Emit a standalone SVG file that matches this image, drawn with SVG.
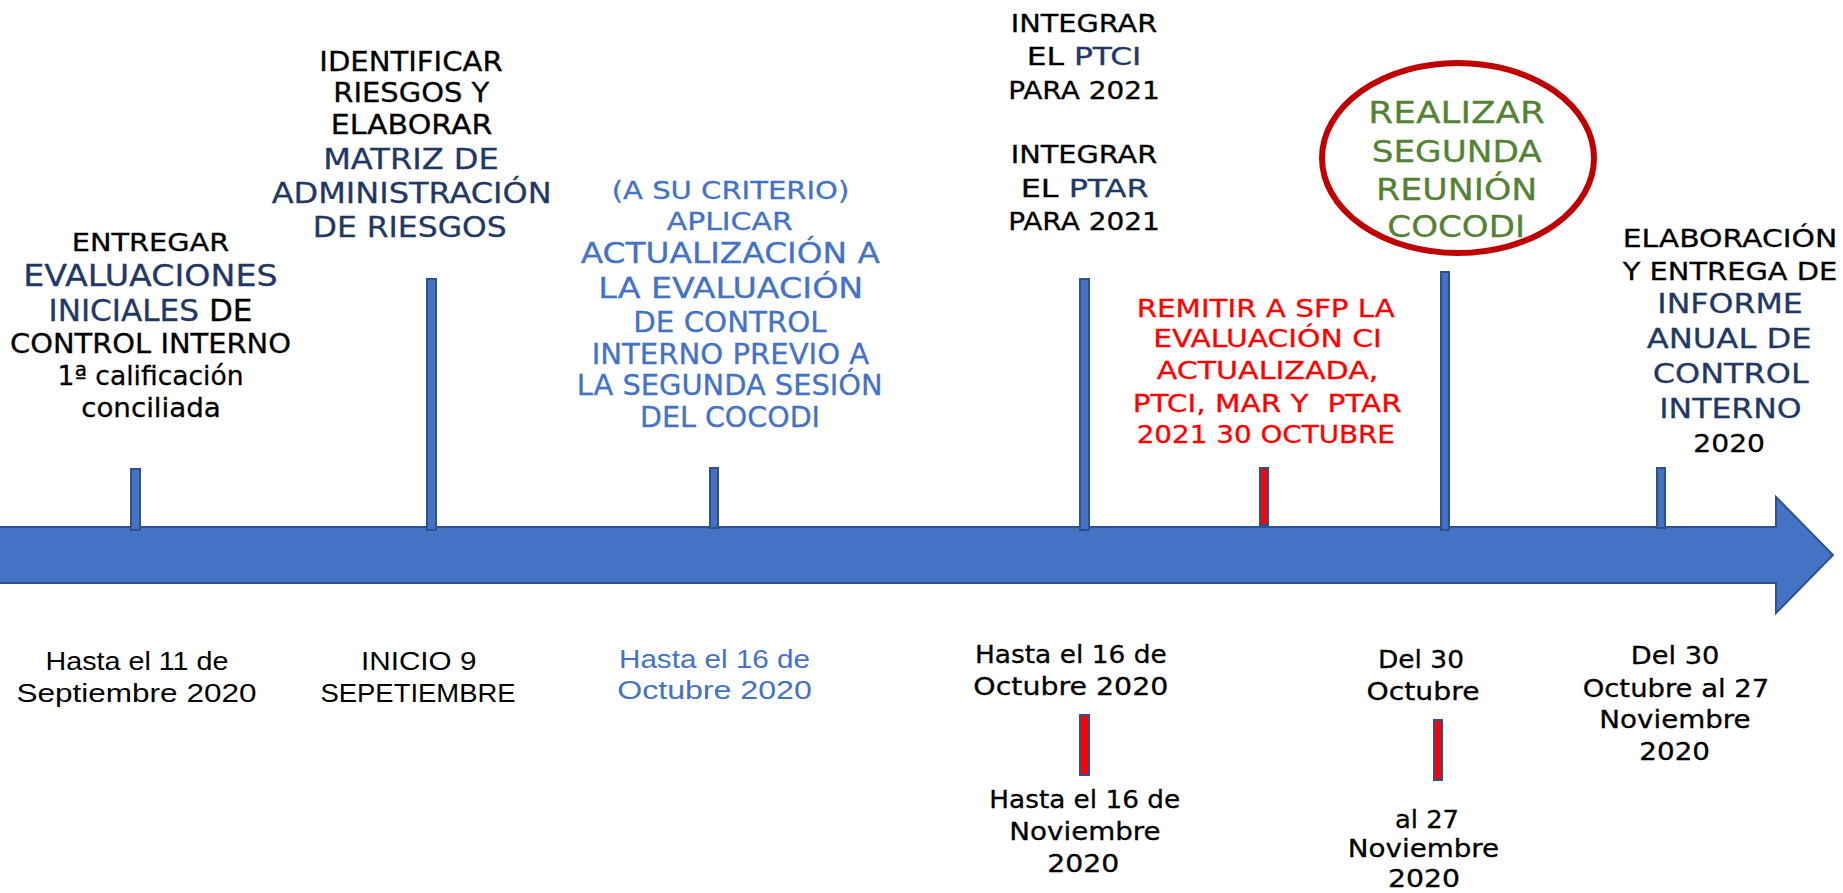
<svg xmlns="http://www.w3.org/2000/svg" width="1843" height="893" viewBox="0 0 1843 893">
<style>
.c{font-family:"DejaVu Sans","Noto Sans",sans-serif;text-anchor:middle;stroke-width:0.3;}
.n{font-family:"Liberation Sans",Arial,sans-serif;text-anchor:middle;}
.k{fill:#000000;stroke:#000000}.nv{fill:#1F3864;stroke:#1F3864}.bl{fill:#4472C4;stroke:#4472C4}.rd{fill:#FF0000;stroke:#FF0000}.gr{fill:#548235;stroke:#548235}
.n.k,.n.bl{stroke:none}
.tick{fill:#4472C4;stroke:#2F528F;stroke-width:2}
.rtick{fill:#FF0000;stroke:#2F528F;stroke-width:2}
.arrow{fill:#4472C4;stroke:#2F528F;stroke-width:2}
</style>
<rect width="1843" height="893" fill="#FFFFFF"/>
<g id="connectors">
<path class="arrow" d="M-2,527 L1776,527 L1776,497 L1833,555 L1776,613 L1776,583 L-2,583 Z"/>
<rect class="tick" x="131" y="469" width="9" height="61"/>
<rect class="tick" x="427" y="279" width="9" height="251"/>
<rect class="tick" x="710" y="468" width="8" height="60"/>
<rect class="tick" x="1080" y="279" width="9" height="251"/>
<rect class="rtick" x="1260" y="468" width="8" height="57"/>
<rect class="tick" x="1441" y="272" width="8" height="258"/>
<rect class="tick" x="1657" y="468" width="8" height="60"/>
<rect class="rtick" x="1080" y="715" width="9" height="60"/>
<rect class="rtick" x="1434" y="720" width="8" height="60"/>
</g>
<g id="node-entregar">
<text class="c k" x="150.5" y="251" font-size="25.5" textLength="157.6" lengthAdjust="spacingAndGlyphs">ENTREGAR</text>
<text class="c nv" x="150.5" y="286" font-size="29.5" textLength="254.4" lengthAdjust="spacingAndGlyphs">EVALUACIONES</text>
<text class="c k" x="150.5" y="321" font-size="29.5" textLength="204" lengthAdjust="spacingAndGlyphs"><tspan class="nv">INICIALES</tspan> DE</text>
<text class="c k" x="150.5" y="353" font-size="26" textLength="281" lengthAdjust="spacingAndGlyphs">CONTROL INTERNO</text>
<text class="c k" x="150.5" y="385" font-size="26" textLength="186" lengthAdjust="spacingAndGlyphs">1ª calificación</text>
<text class="c k" x="151" y="417" font-size="26" textLength="139.7" lengthAdjust="spacingAndGlyphs">conciliada</text>
</g>
<g id="node-identificar">
<text class="c k" x="411" y="70.7" font-size="26" textLength="183.4" lengthAdjust="spacingAndGlyphs">IDENTIFICAR</text>
<text class="c k" x="411.3" y="102.3" font-size="26" textLength="156" lengthAdjust="spacingAndGlyphs">RIESGOS Y</text>
<text class="c k" x="411.5" y="134" font-size="26" textLength="161.6" lengthAdjust="spacingAndGlyphs">ELABORAR</text>
<text class="c nv" x="411" y="169.3" font-size="28.5" textLength="175.7" lengthAdjust="spacingAndGlyphs">MATRIZ DE</text>
<text class="c nv" x="411.7" y="203.3" font-size="28.5" textLength="280" lengthAdjust="spacingAndGlyphs">ADMINISTRACIÓN</text>
<text class="c nv" x="409.7" y="237.3" font-size="28.5" textLength="194" lengthAdjust="spacingAndGlyphs">DE RIESGOS</text>
</g>
<g id="node-aplicar">
<text class="c bl" x="730.5" y="199.3" font-size="24.5" textLength="237.6" lengthAdjust="spacingAndGlyphs">(A SU CRITERIO)</text>
<text class="c bl" x="729.7" y="230" font-size="24.5" textLength="126" lengthAdjust="spacingAndGlyphs">APLICAR</text>
<text class="c bl" x="730.3" y="263.3" font-size="27.5" textLength="299.3" lengthAdjust="spacingAndGlyphs">ACTUALIZACIÓN A</text>
<text class="c bl" x="730.8" y="298.3" font-size="27.5" textLength="265" lengthAdjust="spacingAndGlyphs">LA EVALUACIÓN</text>
<text class="c bl" x="730" y="331.7" font-size="27.5" textLength="193.4" lengthAdjust="spacingAndGlyphs">DE CONTROL</text>
<text class="c bl" x="730.5" y="364" font-size="27.5" textLength="277.6" lengthAdjust="spacingAndGlyphs">INTERNO PREVIO A</text>
<text class="c bl" x="729.7" y="395" font-size="27.5" textLength="306" lengthAdjust="spacingAndGlyphs">LA SEGUNDA SESIÓN</text>
<text class="c bl" x="730" y="426.7" font-size="27.5" textLength="180" lengthAdjust="spacingAndGlyphs">DEL COCODI</text>
</g>
<g id="node-integrar">
<text class="c k" x="1084" y="32.3" font-size="24" textLength="146.6" lengthAdjust="spacingAndGlyphs">INTEGRAR</text>
<text class="c k" x="1084" y="65" font-size="24" textLength="114.6" lengthAdjust="spacingAndGlyphs">EL <tspan class="nv">PTCI</tspan></text>
<text class="c k" x="1084" y="99.3" font-size="24" textLength="151.7" lengthAdjust="spacingAndGlyphs">PARA 2021</text>
<text class="c k" x="1084" y="163.3" font-size="24" textLength="146.6" lengthAdjust="spacingAndGlyphs">INTEGRAR</text>
<text class="c k" x="1084.7" y="196.7" font-size="24" textLength="128" lengthAdjust="spacingAndGlyphs">EL <tspan class="nv">PTAR</tspan></text>
<text class="c k" x="1084" y="230" font-size="24" textLength="151.7" lengthAdjust="spacingAndGlyphs">PARA 2021</text>
</g>
<g id="node-remitir">
<text class="c rd" x="1265.8" y="316.7" font-size="25" textLength="258.3" lengthAdjust="spacingAndGlyphs">REMITIR A SFP LA</text>
<text class="c rd" x="1267.5" y="346.7" font-size="25" textLength="228.4" lengthAdjust="spacingAndGlyphs">EVALUACIÓN CI</text>
<text class="c rd" x="1267.5" y="379.3" font-size="25" textLength="221.6" lengthAdjust="spacingAndGlyphs">ACTUALIZADA,</text>
<text class="c rd" x="1267.2" y="411.7" font-size="25" textLength="269" lengthAdjust="spacingAndGlyphs" xml:space="preserve">PTCI, MAR Y  PTAR</text>
<text class="c rd" x="1265.8" y="442.7" font-size="25" textLength="258.3" lengthAdjust="spacingAndGlyphs">2021 30 OCTUBRE</text>
</g>
<g id="node-realizar">
<ellipse cx="1458" cy="158" rx="136" ry="95" fill="#FFFFFF" stroke="#C00000" stroke-width="6"/>
<text class="c gr" x="1456.7" y="123.3" font-size="31" textLength="176.7" lengthAdjust="spacingAndGlyphs">REALIZAR</text>
<text class="c gr" x="1456.7" y="161.7" font-size="31" textLength="170" lengthAdjust="spacingAndGlyphs">SEGUNDA</text>
<text class="c gr" x="1456.7" y="200" font-size="31" textLength="161.3" lengthAdjust="spacingAndGlyphs">REUNIÓN</text>
<text class="c gr" x="1456.2" y="237.3" font-size="31" textLength="137.7" lengthAdjust="spacingAndGlyphs">COCODI</text>
</g>
<g id="node-informe">
<text class="c k" x="1730" y="247.3" font-size="25.5" textLength="214.6" lengthAdjust="spacingAndGlyphs">ELABORACIÓN</text>
<text class="c k" x="1730" y="280" font-size="25.5" textLength="214.6" lengthAdjust="spacingAndGlyphs">Y ENTREGA DE</text>
<text class="c nv" x="1730" y="312.7" font-size="27" textLength="145.4" lengthAdjust="spacingAndGlyphs">INFORME</text>
<text class="c nv" x="1729.2" y="348.3" font-size="27" textLength="165" lengthAdjust="spacingAndGlyphs">ANUAL DE</text>
<text class="c nv" x="1730.7" y="383.3" font-size="27" textLength="156" lengthAdjust="spacingAndGlyphs">CONTROL</text>
<text class="c nv" x="1730.5" y="418.3" font-size="27" textLength="142.4" lengthAdjust="spacingAndGlyphs">INTERNO</text>
<text class="c k" x="1729.2" y="451.7" font-size="25.5" textLength="71.7" lengthAdjust="spacingAndGlyphs">2020</text>
</g>
<g id="date-septiembre">
<text class="n k" x="137" y="670" font-size="26" textLength="183" lengthAdjust="spacingAndGlyphs">Hasta el 11 de</text>
<text class="n k" x="136.5" y="702" font-size="26" textLength="240" lengthAdjust="spacingAndGlyphs">Septiembre 2020</text>
</g>
<g id="date-inicio">
<text class="n k" x="418.7" y="670" font-size="26" textLength="115.5" lengthAdjust="spacingAndGlyphs">INICIO 9</text>
<text class="n k" x="418" y="702" font-size="26" textLength="195" lengthAdjust="spacingAndGlyphs">SEPETIEMBRE</text>
</g>
<g id="date-octubre-azul">
<text class="n bl" x="714.5" y="668" font-size="26" textLength="191" lengthAdjust="spacingAndGlyphs">Hasta el 16 de</text>
<text class="n bl" x="714.5" y="699" font-size="26" textLength="194.6" lengthAdjust="spacingAndGlyphs">Octubre 2020</text>
</g>
<g id="date-octubre">
<text class="c k" x="1070.8" y="663.3" font-size="24" textLength="191.7" lengthAdjust="spacingAndGlyphs">Hasta el 16 de</text>
<text class="c k" x="1070.8" y="695" font-size="24" textLength="195" lengthAdjust="spacingAndGlyphs">Octubre 2020</text>
</g>
<g id="date-noviembre">
<text class="c k" x="1084.7" y="807.7" font-size="24" textLength="190.7" lengthAdjust="spacingAndGlyphs">Hasta el 16 de</text>
<text class="c k" x="1085" y="840" font-size="24" textLength="151.4" lengthAdjust="spacingAndGlyphs">Noviembre</text>
<text class="c k" x="1083.3" y="871.7" font-size="24" textLength="72" lengthAdjust="spacingAndGlyphs">2020</text>
</g>
<g id="date-del30">
<text class="c k" x="1421" y="668.3" font-size="24" textLength="86" lengthAdjust="spacingAndGlyphs">Del 30</text>
<text class="c k" x="1423" y="700" font-size="24" textLength="113" lengthAdjust="spacingAndGlyphs">Octubre</text>
</g>
<g id="date-al27">
<text class="c k" x="1427" y="828.3" font-size="24" textLength="64" lengthAdjust="spacingAndGlyphs">al 27</text>
<text class="c k" x="1423.5" y="856.7" font-size="24" textLength="151.4" lengthAdjust="spacingAndGlyphs">Noviembre</text>
<text class="c k" x="1424" y="886.7" font-size="24" textLength="72" lengthAdjust="spacingAndGlyphs">2020</text>
</g>
<g id="date-informe">
<text class="c k" x="1675" y="664.3" font-size="24" textLength="88.6" lengthAdjust="spacingAndGlyphs">Del 30</text>
<text class="c k" x="1676" y="696.7" font-size="24" textLength="186.6" lengthAdjust="spacingAndGlyphs">Octubre al 27</text>
<text class="c k" x="1675" y="728.3" font-size="24" textLength="151.4" lengthAdjust="spacingAndGlyphs">Noviembre</text>
<text class="c k" x="1674.7" y="760" font-size="24" textLength="70.7" lengthAdjust="spacingAndGlyphs">2020</text>
</g>
</svg>
